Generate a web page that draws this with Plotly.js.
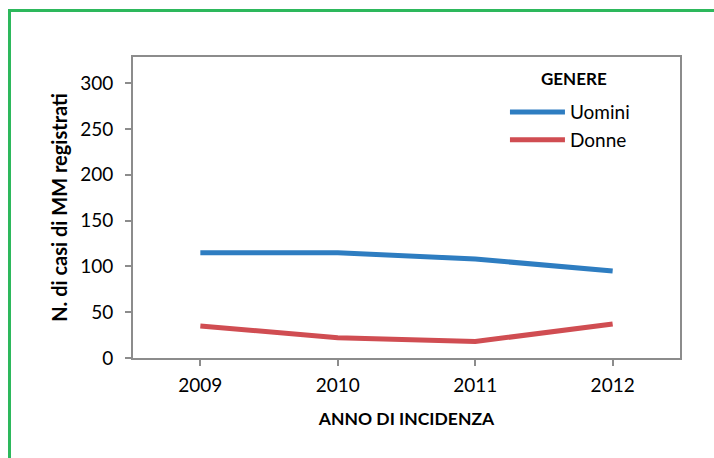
<!DOCTYPE html>
<html>
<head>
<meta charset="utf-8">
<script src="https://cdn.plot.ly/plotly-3.0.1.min.js"></script>
<style>
  html, body { margin: 0; padding: 0; background: #ffffff; overflow: hidden; }
  #wrap { position: relative; width: 714px; height: 458px; }
  #frame { position: absolute; left: 8px; top: 9px; width: 720px; height: 470px;
           border: 3px solid #2DB85C; box-sizing: border-box; pointer-events: none; }
  #chart { position: absolute; left: 0; top: 0; width: 714px; height: 458px; }
</style>
</head>
<body>
<div id="wrap">
  <div id="frame"></div>
  <div id="chart"></div>
</div>
<script>
const years = ["2009", "2010", "2011", "2012"];
const uomini = [115, 115, 108, 95];
const donne = [35, 22, 18, 37];
const seriesNames = ["Uomini", "Donne"];
const legendTitle = "GENERE";
const yTicks = [0, 50, 100, 150, 200, 250, 300];

const font = "Lato, 'Open Sans', sans-serif";

const traces = [
  { x: years, y: uomini, name: seriesNames[0], legendgroup: "a", type: "scatter", mode: "lines",
    line: { color: "#2E7DC1", width: 5 } },
  { x: years, y: donne, name: seriesNames[1], legendgroup: "b", type: "scatter", mode: "lines",
    line: { color: "#D04D52", width: 5 } }
];

const axisColor = "#8C8C8C";

const layout = {
  width: 714, height: 458,
  margin: { l: 133, r: 34, t: 57, b: 100 },
  paper_bgcolor: "rgba(0,0,0,0)",
  plot_bgcolor: "#ffffff",
  font: { family: font, size: 19, color: "#000000" },
  showlegend: true,
  legend: {
    x: 0.68, y: 0.88, xanchor: "left", yanchor: "top",
    bgcolor: "rgba(0,0,0,0)",
    itemwidth: 55,
    tracegroupgap: 0,
    font: { family: font, size: 19, color: "#000000" }
  },
  annotations: [{
    text: "<b>" + legendTitle + "</b>", xref: "paper", yref: "paper",
    x: 0.806, y: 0.93, xanchor: "center", yanchor: "middle", showarrow: false,
    font: { family: font, size: 17, color: "#000000" }
  }],
  xaxis: {
    type: "category",
    range: [-0.49, 3.49],
    showline: true, linecolor: axisColor, linewidth: 2, mirror: true,
    ticks: "outside", ticklen: 6, tickcolor: axisColor, tickwidth: 2,
    ticklabelstandoff: 3,
    showgrid: false, zeroline: false,
    tickfont: { family: font, size: 19 },
    title: { text: "<b>ANNO DI INCIDENZA</b>", standoff: 18, font: { family: font, size: 17.5 } }
  },
  yaxis: {
    range: [0, 328.5],
    tickvals: yTicks,
    showline: true, linecolor: axisColor, linewidth: 2, mirror: true,
    ticks: "outside", ticklen: 6, tickcolor: axisColor, tickwidth: 2,
    ticklabelstandoff: 8,
    showgrid: false, zeroline: false,
    tickfont: { family: font, size: 19 },
    title: { text: "<b>N. di casi di MM registrati</b>", standoff: 7, font: { family: font, size: 20 } }
  }
};

Plotly.newPlot("chart", traces, layout, { displayModeBar: false, staticPlot: true });
</script>
</body>
</html>
